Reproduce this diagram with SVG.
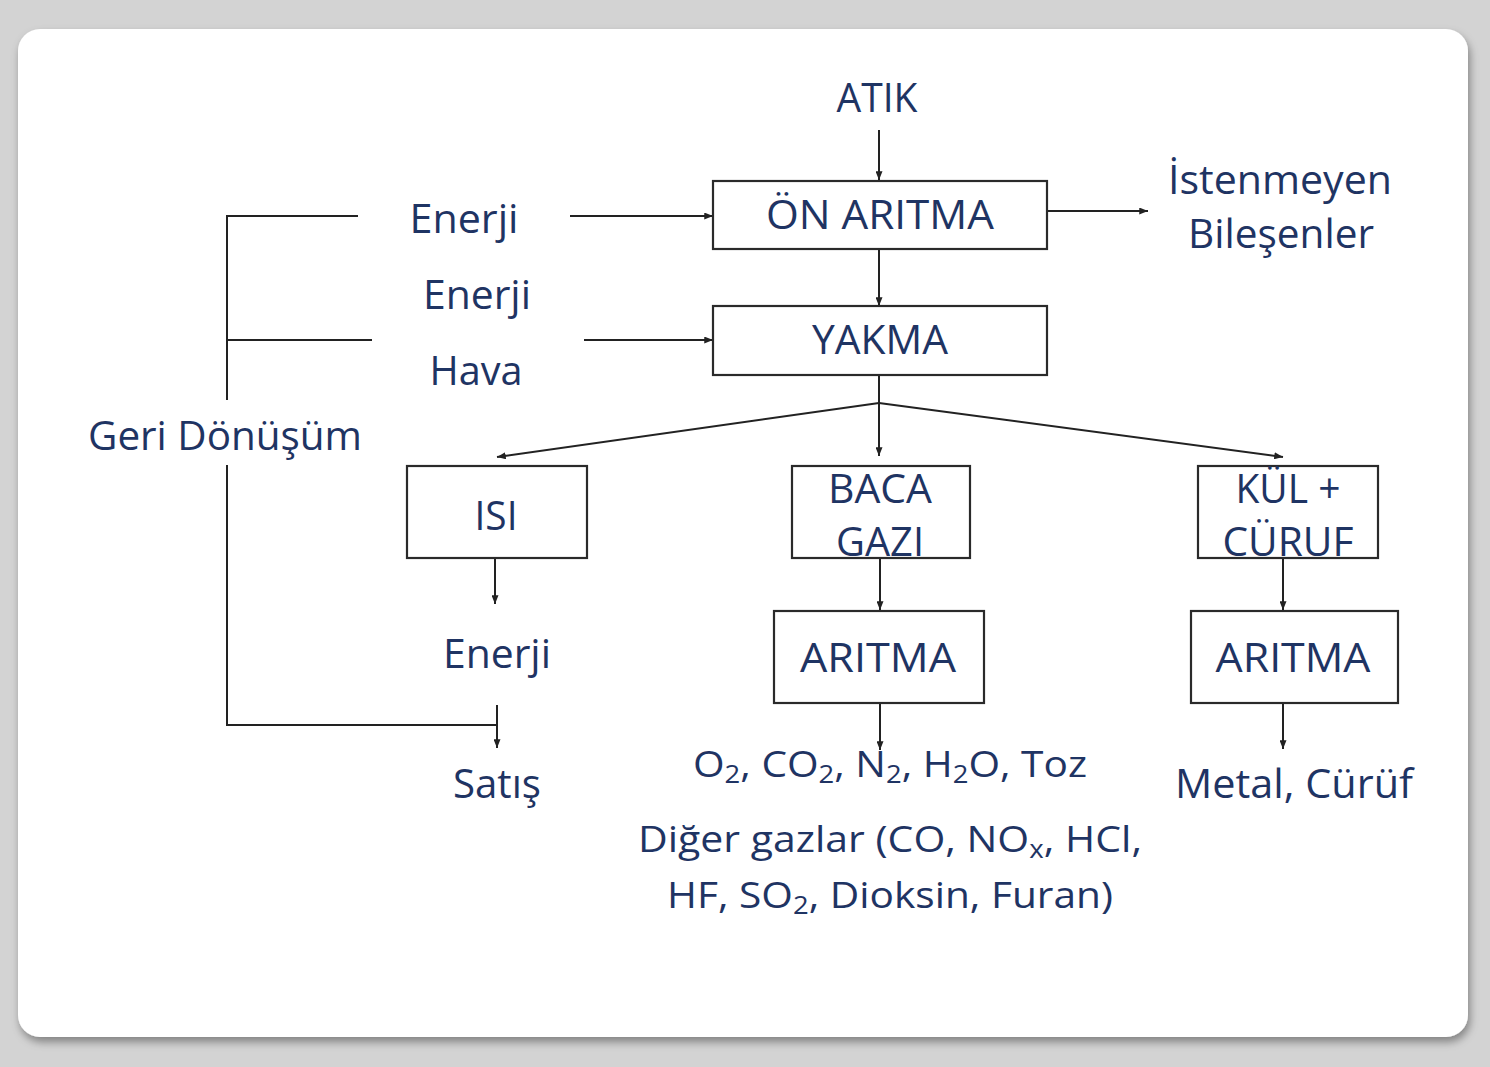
<svg xmlns="http://www.w3.org/2000/svg" width="1490" height="1067" viewBox="0 0 1490 1067">
  <defs>
    <filter id="cardShadow" x="-5%" y="-5%" width="110%" height="110%">
      <feDropShadow dx="2" dy="5" stdDeviation="4" flood-color="#000" flood-opacity="0.38"/>
    </filter>
    <marker id="arrow" viewBox="0 0 10 8" refX="10" refY="4" markerWidth="9" markerHeight="7" markerUnits="userSpaceOnUse" orient="auto">
      <path d="M0,0 L10,4 L0,8 z" fill="#222"/>
    </marker>
    <style>
      .lbl { font-family: "Open Sans", "Liberation Sans", sans-serif; fill: #1f3463; font-size: 40px; text-anchor: middle; }
      .gas { font-size: 37px; }
      .box { fill: #fff; stroke: #2a2a2a; stroke-width: 2.2; }
      .wire { fill: none; stroke: #222; stroke-width: 2; }
      .arr { fill: none; stroke: #222; stroke-width: 2; marker-end: url(#arrow); }
      .sub { font-size: 25px; }
    </style>
  </defs>

  <!-- page background and card -->
  <rect x="0" y="0" width="1490" height="1067" fill="#d3d3d3"/>
  <rect x="18" y="29" width="1450" height="1008" rx="22" ry="22" fill="#fff" filter="url(#cardShadow)"/>

  <!-- connectors -->
  <g id="connectors">
    <line class="arr" x1="879" y1="130" x2="879" y2="180"/>
    <line class="arr" x1="570" y1="216" x2="713" y2="216"/>
    <line class="arr" x1="1047" y1="211" x2="1148" y2="211"/>
    <line class="arr" x1="879" y1="249" x2="879" y2="306"/>
    <line class="arr" x1="584" y1="340" x2="713" y2="340"/>
    <line class="wire" x1="879" y1="375" x2="879" y2="403"/>
    <line class="arr" x1="879" y1="403" x2="497" y2="457"/>
    <line class="arr" x1="879" y1="403" x2="879" y2="456"/>
    <line class="arr" x1="879" y1="403" x2="1283" y2="457"/>
    <line class="arr" x1="495" y1="558" x2="495" y2="604"/>
    <line class="arr" x1="497" y1="705" x2="497" y2="748"/>
    <line class="arr" x1="880" y1="558" x2="880" y2="610"/>
    <line class="arr" x1="880" y1="703" x2="880" y2="750"/>
    <line class="arr" x1="1283" y1="558" x2="1283" y2="610"/>
    <line class="arr" x1="1283" y1="703" x2="1283" y2="749"/>
    <!-- recycling bracket -->
    <polyline class="wire" points="358,216 227,216 227,400"/>
    <line class="wire" x1="227" y1="340" x2="372" y2="340"/>
    <polyline class="wire" points="227,465 227,725 497,725"/>
  </g>

  <!-- nodes -->
  <g id="atik">
    <text class="lbl" x="877" y="112" font-size="36" textLength="81" lengthAdjust="spacingAndGlyphs">ATIK</text>
  </g>
  <g id="on-aritma">
    <rect class="box" x="713" y="181" width="334" height="68"/>
    <text class="lbl" x="880" y="229" textLength="228" lengthAdjust="spacingAndGlyphs">ÖN ARITMA</text>
  </g>
  <g id="istenmeyen">
    <text class="lbl" x="1280" y="194" textLength="224" lengthAdjust="spacingAndGlyphs">İstenmeyen</text>
    <text class="lbl" x="1281" y="248" textLength="186" lengthAdjust="spacingAndGlyphs">Bileşenler</text>
  </g>
  <g id="enerji-1">
    <text class="lbl" x="464" y="233" textLength="109" lengthAdjust="spacingAndGlyphs">Enerji</text>
  </g>
  <g id="enerji-hava">
    <text class="lbl" x="477" y="309" textLength="108" lengthAdjust="spacingAndGlyphs">Enerji</text>
    <text class="lbl" x="476" y="385" textLength="93" lengthAdjust="spacingAndGlyphs">Hava</text>
  </g>
  <g id="yakma">
    <rect class="box" x="713" y="306" width="334" height="69"/>
    <text class="lbl" x="880" y="354" textLength="136" lengthAdjust="spacingAndGlyphs">YAKMA</text>
  </g>
  <g id="geri-donusum">
    <text class="lbl" x="225" y="450" textLength="274" lengthAdjust="spacingAndGlyphs">Geri Dönüşüm</text>
  </g>
  <g id="isi">
    <rect class="box" x="407" y="466" width="180" height="92"/>
    <text class="lbl" x="496" y="530" font-size="46" textLength="43" lengthAdjust="spacingAndGlyphs">ISI</text>
  </g>
  <g id="baca-gazi">
    <rect class="box" x="792" y="466" width="178" height="92"/>
    <text class="lbl" x="880" y="503" font-size="46" textLength="104" lengthAdjust="spacingAndGlyphs">BACA</text>
    <text class="lbl" x="880" y="556" font-size="46" textLength="88" lengthAdjust="spacingAndGlyphs">GAZI</text>
  </g>
  <g id="kul-curuf">
    <rect class="box" x="1198" y="466" width="180" height="92"/>
    <text class="lbl" x="1288" y="503" font-size="46" textLength="105" lengthAdjust="spacingAndGlyphs">KÜL +</text>
    <text class="lbl" x="1288" y="556" font-size="46" textLength="131" lengthAdjust="spacingAndGlyphs">CÜRUF</text>
  </g>
  <g id="enerji-3">
    <text class="lbl" x="497" y="668" textLength="108" lengthAdjust="spacingAndGlyphs">Enerji</text>
  </g>
  <g id="satis">
    <text class="lbl" x="497" y="798" textLength="88" lengthAdjust="spacingAndGlyphs">Satış</text>
  </g>
  <g id="aritma-gaz">
    <rect class="box" x="774" y="611" width="210" height="92"/>
    <text class="lbl" x="878" y="672" textLength="156" lengthAdjust="spacingAndGlyphs">ARITMA</text>
  </g>
  <g id="aritma-kul">
    <rect class="box" x="1191" y="611" width="207" height="92"/>
    <text class="lbl" x="1293" y="672" textLength="155" lengthAdjust="spacingAndGlyphs">ARITMA</text>
  </g>
  <g id="gaz-ciktilari">
    <text class="lbl gas" x="890" y="777" textLength="394" lengthAdjust="spacingAndGlyphs">O<tspan class="sub" dy="6">2</tspan><tspan dy="-6">, CO</tspan><tspan class="sub" dy="6">2</tspan><tspan dy="-6">, N</tspan><tspan class="sub" dy="6">2</tspan><tspan dy="-6">, H</tspan><tspan class="sub" dy="6">2</tspan><tspan dy="-6">O, Toz</tspan></text>
    <text class="lbl gas" x="890" y="852" textLength="504" lengthAdjust="spacingAndGlyphs">Diğer gazlar (CO, NO<tspan class="sub" dy="6">x</tspan><tspan dy="-6">, HCl,</tspan></text>
    <text class="lbl gas" x="890" y="908" textLength="446" lengthAdjust="spacingAndGlyphs">HF, SO<tspan class="sub" dy="6">2</tspan><tspan dy="-6">, Dioksin, Furan)</tspan></text>
  </g>
  <g id="metal-curuf">
    <text class="lbl" x="1294" y="798" textLength="238" lengthAdjust="spacingAndGlyphs">Metal, Cürüf</text>
  </g>
</svg>
